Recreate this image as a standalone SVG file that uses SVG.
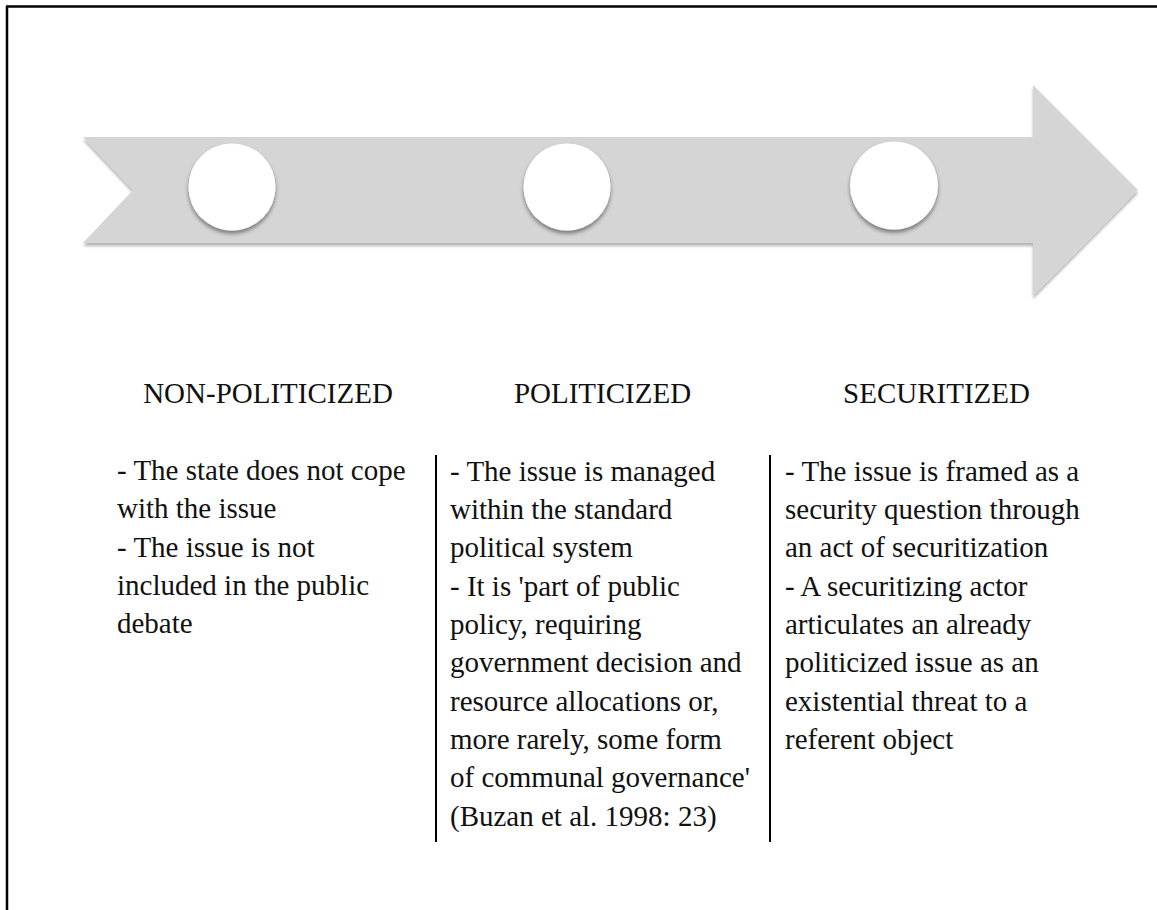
<svg xmlns="http://www.w3.org/2000/svg" width="1157" height="910" viewBox="0 0 1157 910">
<defs>
<filter id="arrowShadow" x="-5%" y="-20%" width="110%" height="140%">
<feGaussianBlur in="SourceAlpha" stdDeviation="1.5"/>
<feOffset dx="0" dy="2.5" result="b"/>
<feComponentTransfer><feFuncA type="linear" slope="0.3"/></feComponentTransfer>
<feMerge><feMergeNode/><feMergeNode in="SourceGraphic"/></feMerge>
</filter>
<filter id="circleShadow" x="-30%" y="-30%" width="160%" height="160%">
<feGaussianBlur in="SourceAlpha" stdDeviation="2"/>
<feOffset dx="0" dy="3" result="b"/>
<feComponentTransfer><feFuncA type="linear" slope="0.45"/></feComponentTransfer>
<feMerge><feMergeNode/><feMergeNode in="SourceGraphic"/></feMerge>
</filter>
</defs>
<style>
.t{font-family:"Liberation Serif","Times New Roman",serif;font-size:29px;fill:#111;}
.h{text-anchor:middle;}
.sep{stroke:#000;stroke-width:2;}
.circ{fill:#fff;filter:url(#circleShadow);}
</style>
<rect x="0" y="0" width="1157" height="910" fill="#fff"/>
<g id="frame">
<line x1="6" y1="6.5" x2="1157" y2="6.5" stroke="#000" stroke-width="2.5"/>
<line x1="7" y1="6" x2="7" y2="910" stroke="#000" stroke-width="2.5"/>
</g>
<g id="arrow">
<polygon points="83,137 1033,137 1033,85 1138,190 1033,296 1033,243 83,243 133,190" fill="#d5d5d5" filter="url(#arrowShadow)"/>
</g>
<g id="stage1"><circle class="circ" cx="232" cy="187" r="43.5"/></g>
<g id="stage2"><circle class="circ" cx="567" cy="187" r="43.5"/></g>
<g id="stage3"><circle class="circ" cx="894" cy="185.5" r="44"/></g>
<g id="connectors">
<line class="sep" x1="436" y1="455" x2="436" y2="842"/>
<line class="sep" x1="770" y1="455" x2="770" y2="842"/>
</g>
<g id="col1">
<text class="t h" x="268" y="403">NON-POLITICIZED</text>
<text class="t" x="117" y="480">- The state does not cope</text>
<text class="t" x="117" y="518.3">with the issue</text>
<text class="t" x="117" y="556.7">- The issue is not</text>
<text class="t" x="117" y="595">included in the public</text>
<text class="t" x="117" y="633.3">debate</text>
</g>
<g id="col2">
<text class="t h" x="602.5" y="403">POLITICIZED</text>
<text class="t" x="450" y="480.5">- The issue is managed</text>
<text class="t" x="450" y="518.8">within the standard</text>
<text class="t" x="450" y="557.2">political system</text>
<text class="t" x="450" y="595.5">- It is 'part of public</text>
<text class="t" x="450" y="633.8">policy, requiring</text>
<text class="t" x="450" y="672.2">government decision and</text>
<text class="t" x="450" y="710.5">resource allocations or,</text>
<text class="t" x="450" y="748.8">more rarely, some form</text>
<text class="t" x="450" y="787.2">of communal governance'</text>
<text class="t" x="450" y="825.5">(Buzan et al. 1998: 23)</text>
</g>
<g id="col3">
<text class="t h" x="936.5" y="403">SECURITIZED</text>
<text class="t" x="785" y="480.5">- The issue is framed as a</text>
<text class="t" x="785" y="518.8">security question through</text>
<text class="t" x="785" y="557.2">an act of securitization</text>
<text class="t" x="785" y="595.5">- A securitizing actor</text>
<text class="t" x="785" y="633.8">articulates an already</text>
<text class="t" x="785" y="672.2">politicized issue as an</text>
<text class="t" x="785" y="710.5">existential threat to a</text>
<text class="t" x="785" y="748.8">referent object</text>
</g>
</svg>
